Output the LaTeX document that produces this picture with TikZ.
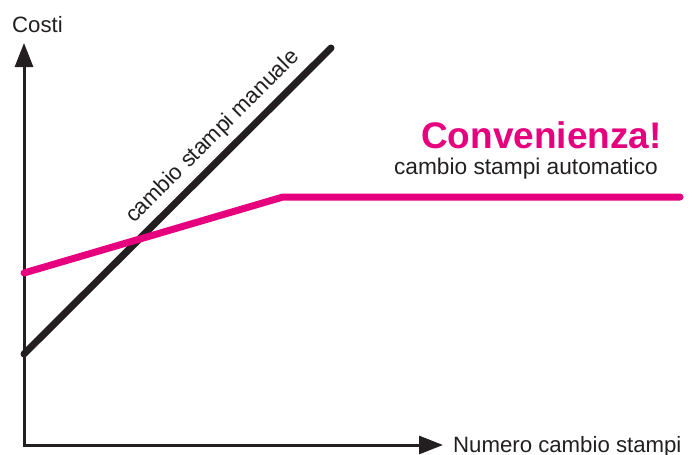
\documentclass[tikz,border=0pt]{standalone}
\usepackage{fontspec}
\setmainfont{Liberation Sans}
\usetikzlibrary{arrows.meta}
\definecolor{ink}{RGB}{35,31,32}
\definecolor{magenta}{RGB}{230,0,126}
\tikzset{
  axis/.style={draw=ink, line width=3pt, -{Triangle[length=24pt,width=18pt]}},
  curve/.style={line width=7pt, line cap=round, line join=round},
  lbl/.style={inner sep=0pt, text=ink, font=\fontsize{22.2}{25}\selectfont},
}
\begin{document}
\begin{tikzpicture}[x=1pt,y=-1pt]
\useasboundingbox (0,0) rectangle (691,455);
% axes
\coordinate (O) at (24,445);
\coordinate (ytop) at (24,43);
\coordinate (xend) at (443,445);
\draw[axis] ([yshift=1.5pt]O) -- (ytop);
\draw[axis] ([xshift=-1.5pt]O) -- (xend);
\node[lbl, anchor=base west] (costi) at (12,32) {Costi};
\node[lbl, anchor=base west] (numero) at (453,452.5) {Numero cambio stampi};
% manual line
\coordinate (m1) at (24,354);
\coordinate (m2) at (331,48);
\draw[curve, draw=ink] (m1) -- (m2);
\node[lbl, anchor=base, rotate=45] (manuale) at (217,141) {cambio stampi manuale};
% automatic line
\coordinate (a1) at (24,273);
\coordinate (a2) at (283,197);
\coordinate (a3) at (680,197);
\draw[curve, draw=magenta] (a1) -- (a2) -- (a3);
\node[inner sep=0pt, anchor=base east, text=magenta, font=\fontsize{37}{40}\selectfont\bfseries] (conv) at (662,148) {Convenienza!};
\node[lbl, anchor=base east, font=\fontsize{22.7}{26}\selectfont] (auto) at (658,174) {cambio stampi automatico};
\end{tikzpicture}
\end{document}
